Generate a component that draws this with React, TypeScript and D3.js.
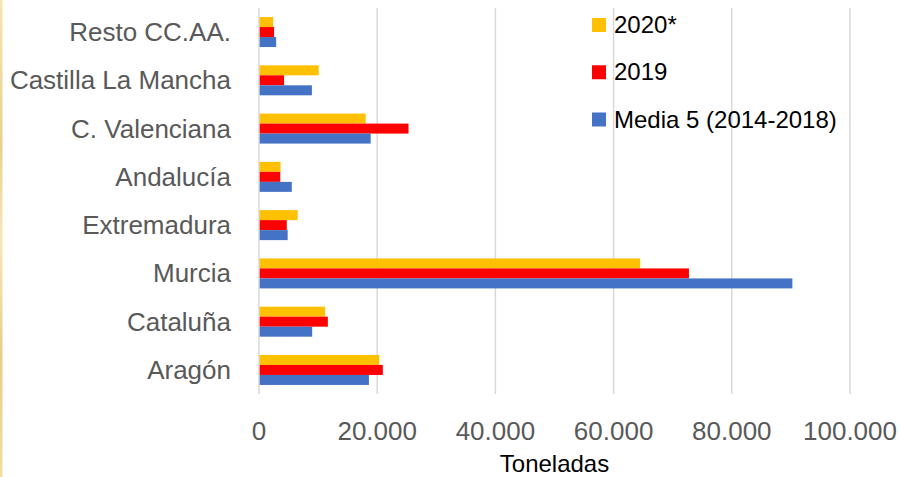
import React from "react";
import * as d3 from "d3";

const categories = [
  "Resto CC.AA.",
  "Castilla La Mancha",
  "C. Valenciana",
  "Andalucía",
  "Extremadura",
  "Murcia",
  "Cataluña",
  "Aragón",
];
const seriesNames = ["2020*", "2019", "Media 5 (2014-2018)"];
const seriesColors = ["#FFC000", "#FF0000", "#4472C4"];
const values2020 = [2400, 10100, 18050, 3650, 6550, 64500, 11200, 20350];
const values2019 = [2550, 4250, 25300, 3600, 4700, 72750, 11650, 20950];
const valuesMedia = [2900, 8950, 18900, 5550, 4850, 90250, 9000, 18600];
const xTicks = [0, 20000, 40000, 60000, 80000, 100000];
const xTickLabels = ["0", "20.000", "40.000", "60.000", "80.000", "100.000"];
const xTitle = "Toneladas";

const seriesValues = [values2020, values2019, valuesMedia];

const W = 900;
const H = 477;
const FONT = "'Liberation Sans', Arial, sans-serif";

export default function App() {
  const left = 259;
  const right = 850;
  const top = 7.9;
  const bottom = 394.1;

  const x = d3.scaleLinear().domain([0, 100000]).range([left, right]);
  const y0 = d3.scaleBand<string>().domain(categories).range([top, bottom]).padding(0);
  const y1 = d3
    .scaleBand<string>()
    .domain(seriesNames)
    .range([0, y0.bandwidth()])
    .paddingInner(0)
    .paddingOuter(0.915);

  const legendY = d3.scalePoint<string>().domain(seriesNames).range([25, 119.5]);

  return (
    <svg
      width={W}
      height={H}
      viewBox={`0 0 ${W} ${H}`}
      style={{ position: "fixed", left: 0, top: 0, display: "block", background: "#fff" }}
      fontFamily={FONT}
    >
      <defs>
        <linearGradient id="edge" x1="0" y1="0" x2="0" y2="1">
          <stop offset="0" stopColor="#f6e6b0" />
          <stop offset="0.3" stopColor="#ead08a" />
          <stop offset="0.5" stopColor="#f7e8b8" />
          <stop offset="0.75" stopColor="#e9cd86" />
          <stop offset="1" stopColor="#f3dea0" />
        </linearGradient>
      </defs>
      <rect x={0} y={0} width={W} height={H} fill="#fff" />
      <rect x={0} y={0} width={2.5} height={H} fill="url(#edge)" />

      {/* gridlines */}
      {xTicks.slice(1).map((t) => (
        <line
          key={"g" + t}
          x1={x(t)}
          x2={x(t)}
          y1={top}
          y2={bottom}
          stroke="#D9D9D9"
          strokeWidth={1.5}
        />
      ))}

      {/* bars */}
      {categories.map((c, i) => (
        <g key={c} transform={`translate(0,${y0(c)})`}>
          {seriesNames.map((s, j) => (
            <rect
              key={s}
              x={x(0)}
              y={y1(s)}
              width={x(seriesValues[j][i]) - x(0)}
              height={y1.bandwidth()}
              fill={seriesColors[j]}
            />
          ))}
        </g>
      ))}

      {/* axis line */}
      <line x1={x(0)} x2={x(0)} y1={top} y2={bottom} stroke="#D9D9D9" strokeWidth={1.5} />

      {/* category labels */}
      {categories.map((c) => (
        <text
          key={"l" + c}
          x={231}
          y={(y0(c) as number) + y0.bandwidth() / 2 + 9}
          textAnchor="end"
          fontSize={26}
          fill="#595959"
        >
          {c}
        </text>
      ))}

      {/* tick labels */}
      {xTicks.map((t, i) => (
        <text key={"t" + t} x={x(t)} y={440} textAnchor="middle" fontSize={26} fill="#595959">
          {xTickLabels[i]}
        </text>
      ))}

      {/* axis title */}
      <text x={(left + right) / 2} y={471.5} textAnchor="middle" fontSize={24} fill="#000">
        {xTitle}
      </text>

      {/* legend */}
      {seriesNames.map((s, j) => (
        <g key={"lg" + s}>
          <rect x={592} y={(legendY(s) as number) - 7} width={14} height={14} fill={seriesColors[j]} />
          <text x={614} y={(legendY(s) as number) + 8} fontSize={24} fill="#000">
            {s}
          </text>
        </g>
      ))}
    </svg>
  );
}
